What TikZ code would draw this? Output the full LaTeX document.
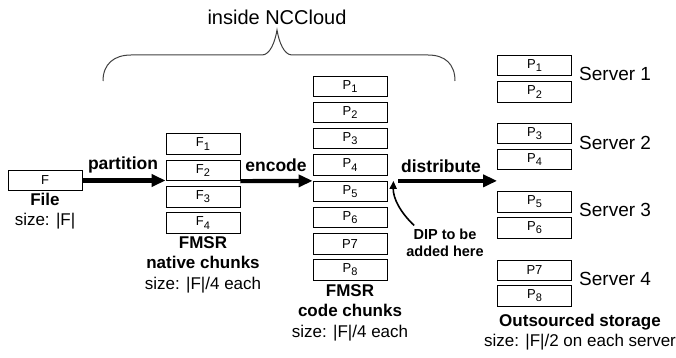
\documentclass[tikz,border=0pt]{standalone}
\usepackage{fontspec}
\setmainfont{Liberation Sans}
\usetikzlibrary{arrows.meta,positioning}
\newcommand{\chunkidx}[1]{\raisebox{-0.45ex}{\fontsize{11}{11}\selectfont #1}}

\begin{document}
\begin{tikzpicture}[x=1pt, y=-1pt,
    chunkbox/.style={
        rectangle,
        draw,
        line width=0.8pt,
        minimum width=74pt,
        minimum height=20.5pt,
        inner sep=0pt,
        font=\fontsize{13}{13}\selectfont
    },
    captiontext/.style={
        align=center,
        inner sep=0pt,
        font=\fontsize{17}{20.5}\selectfont
    },
    opname/.style={
        inner sep=0pt,
        font=\fontsize{17.5}{17.5}\selectfont\bfseries
    },
    servername/.style={
        anchor=west,
        inner sep=0pt,
        font=\fontsize{19}{19}\selectfont
    },
    bigarrow/.style={
        -{Triangle[length=14pt, width=12pt]},
        line width=4.2pt,
        shorten >=0pt
    }
]
    \useasboundingbox (0, 0) rectangle (676, 358);

    \node (cloud_title) [inner sep=0pt, font=\fontsize{20}{20}\selectfont, shift={(277, 17)}]
    {
        inside NCCloud
    };
    \draw[black!75, line width=1pt] (103, 81) .. controls (103, 64) and (114, 55) .. (131, 55)
        -- (262, 55) .. controls (270, 55) and (275, 42) .. (277, 30)
        .. controls (279, 42) and (284, 55) .. (292, 55)
        -- (428, 55) .. controls (445, 55) and (455, 64) .. (455, 81);

    \node (file) [chunkbox, shift={(45, 180.5)}]
    {
        F
    };
    \node (file_caption) [captiontext, shift={(45, 211)}]
    {
        \textbf{File}\\
        size: |F|
    };

    \node (f1) [chunkbox, shift={(203, 144)}]
    {
        F\chunkidx{1}
    };
    \node (f2) [chunkbox, shift={(203, 170.5)}]
    {
        F\chunkidx{2}
    };
    \node (f3) [chunkbox, shift={(203, 197)}]
    {
        F\chunkidx{3}
    };
    \node (f4) [chunkbox, shift={(203, 223)}]
    {
        F\chunkidx{4}
    };
    \node (native_caption) [captiontext, shift={(203, 264.5)}]
    {
        \textbf{FMSR}\\
        \textbf{native chunks}\\
        size: |F|/4 each
    };

    \node (p1) [chunkbox, shift={(350, 86.5)}]
    {
        P\chunkidx{1}
    };
    \node (p2) [chunkbox, shift={(350, 112.5)}]
    {
        P\chunkidx{2}
    };
    \node (p3) [chunkbox, shift={(350, 138.5)}]
    {
        P\chunkidx{3}
    };
    \node (p4) [chunkbox, shift={(350, 165)}]
    {
        P\chunkidx{4}
    };
    \node (p5) [chunkbox, shift={(350, 191.5)}]
    {
        P\chunkidx{5}
    };
    \node (p6) [chunkbox, shift={(350, 217.5)}]
    {
        P\chunkidx{6}
    };
    \node (p7) [chunkbox, shift={(350, 244)}]
    {
        P7
    };
    \node (p8) [chunkbox, shift={(350, 270)}]
    {
        P\chunkidx{8}
    };
    \node (code_caption) [captiontext, shift={(350, 312.5)}]
    {
        \textbf{FMSR}\\
        \textbf{code chunks}\\
        size: |F|/4 each
    };

    \node (dip_note) [align=center, inner sep=0pt, font=\fontsize{14.5}{17}\selectfont\bfseries, shift={(445, 242.5)}]
    {
        DIP to be\\
        added here
    };

    \node (q1) [chunkbox, shift={(534.5, 65.5)}]
    {
        P\chunkidx{1}
    };
    \node (q2) [chunkbox, shift={(534.5, 92)}]
    {
        P\chunkidx{2}
    };
    \node (q3) [chunkbox, shift={(534.5, 133.5)}]
    {
        P\chunkidx{3}
    };
    \node (q4) [chunkbox, shift={(534.5, 159.5)}]
    {
        P\chunkidx{4}
    };
    \node (q5) [chunkbox, shift={(534.5, 202)}]
    {
        P\chunkidx{5}
    };
    \node (q6) [chunkbox, shift={(534.5, 228)}]
    {
        P\chunkidx{6}
    };
    \node (q7) [chunkbox, shift={(534.5, 270.5)}]
    {
        P7
    };
    \node (q8) [chunkbox, shift={(534.5, 296)}]
    {
        P\chunkidx{8}
    };

    \node (server_1) [servername, shift={(579, 74)}]
    {
        Server 1
    };
    \node (server_2) [servername, shift={(579, 143)}]
    {
        Server 2
    };
    \node (server_3) [servername, shift={(579, 210)}]
    {
        Server 3
    };
    \node (server_4) [servername, shift={(579, 279)}]
    {
        Server 4
    };
    \node (storage_caption) [captiontext, shift={(580, 332)}]
    {
        \textbf{Outsourced storage}\\
        size: |F|/2 on each server
    };

    \node (partition_op) [opname, shift={(123, 165)}]
    {
        partition
    };
    \node (encode_op) [opname, shift={(276, 165)}]
    {
        encode
    };
    \node (distribute_op) [opname, shift={(441, 166)}]
    {
        distribute
    };

    \draw[bigarrow] (file.east) to (file.east -| f2.west);
    \draw[bigarrow] (f2.south east) to (p5.north west);
    \draw[bigarrow] ([xshift=11pt]p5.north east) to (p5.north east -| q5.west);
    \draw[-{Triangle[length=8pt, width=7pt]}, line width=1.6pt] ([xshift=8pt, yshift=3pt]dip_note.north west) .. controls (400, 212) and (393, 198) .. ([xshift=6pt]p5.north east);
\end{tikzpicture}
\end{document}
